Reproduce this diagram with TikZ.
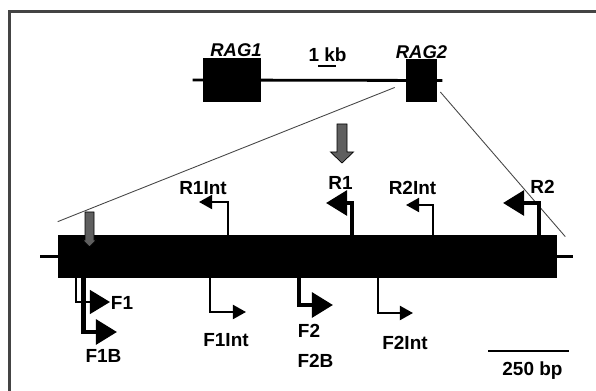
\documentclass[tikz,border=0pt]{standalone}
\usepackage{fontspec}
\setmainfont{Liberation Sans}
\usetikzlibrary{positioning}
\usetikzlibrary{calc}
\usetikzlibrary{arrows.meta}
\definecolor{zoomgray}{RGB}{70,70,70}
\definecolor{probegray}{RGB}{95,95,95}
\definecolor{framegray}{RGB}{68,68,68}

\begin{document}
\begin{tikzpicture}[
    x=0.02cm, y=-0.02cm,
    exon/.style={rectangle, fill=black, inner sep=0pt},
    lbl/.style={font=\fontsize{10.8}{12}\selectfont\bfseries, inner sep=0pt, anchor=base},
    gene/.style={lbl, font=\fontsize{10.5}{12}\selectfont\bfseries\itshape},
    primsmall/.style={line width=1.3pt, -{Triangle[length=7.5pt, width=8pt]}},
    primmid/.style={line width=1.6pt, -{Triangle[length=11.5pt, width=13.5pt]}},
    primbig/.style={line width=2.5pt, -{Triangle[length=12pt, width=14pt]}},
    zoomline/.style={zoomgray, line width=0.5pt},
    probe/.style={draw=black, line width=0.4pt, fill=probegray}
]
    \useasboundingbox (0,0) rectangle (596,391);
    \draw[framegray, line width=1.4pt] (9.5,391) -- (9.5,11.7) -- (596,11.7);

    % genomic locus
    \node[exon, minimum width=1.16cm, minimum height=0.88cm] (rag1) at (232,80) {};
    \node[exon, minimum width=0.62cm, minimum height=0.86cm] (rag2) at (421.5,80.5) {};
    \draw[line width=1.6pt] ([xshift=-0.2cm]rag1.west) -- ([xshift=0.1cm]rag2.east);
    \node[gene] (rag1lab) at (236,56.5) {RAG1};
    \node[gene] (rag2lab) at (421.5,59) {RAG2};
    \node[lbl] (kb) at (327.5,62) {1 kb};
    \draw[line width=1.2pt] (318,66) -- (336,66);

    % enlarged RAG2 exon
    \node[exon, minimum width=9.98cm, minimum height=0.86cm] (cds) at (307.5,256.5) {};
    \draw[line width=1.5pt] (cds.west) -- ++(-18,0);
    \draw[line width=1.5pt] (cds.east) -- ++(16,0);
    \draw[zoomline] ([shift={(-11,7)}]rag2.west) -- ([shift={(0,-13)}]cds.north west);
    \draw[zoomline] ([shift={(3,11.5)}]rag2.east) -- ([shift={(8,2)}]cds.north east);

    % reverse primers
    \foreach \nm/\xa/\xb/\yb/\st in {R1Int/228/199/202/primsmall, R1/352/326/203/primbig,
                                    R2Int/433/406/205/primsmall, R2/539/503/203/primbig} {
        \coordinate (\nm-foot) at (\xa,245);
        \coordinate (\nm-tip) at (\xb,\yb);
        \draw[\st] (\nm-foot) |- (\nm-tip);
    }
    % forward primers
    \foreach \nm/\xa/\xb/\yb/\st in {F1B/83.5/117/332/primbig, F1/76/110/302/primmid,
                                    F1Int/210/246/312/primsmall, F2/299/333/305/primbig,
                                    F2Int/378/413/313/primsmall} {
        \coordinate (\nm-foot) at (\xa,270);
        \coordinate (\nm-tip) at (\xb,\yb);
        \draw[\st] (\nm-foot) |- (\nm-tip);
    }

    % probes
    \draw[probe] (337,124) -- (347,124) -- (347,152) -- (353.5,152) -- (342,163)
                 -- (330.5,152) -- (337,152) -- cycle;
    \draw[probe] (85,212) -- (94,212) -- (94,240) -- (96.5,240) -- (89.5,247)
                 -- (82.5,240) -- (85,240) -- cycle;

    % labels
    \node[lbl] (R1Int-lab) at (203,195) {R1Int};
    \node[lbl] (R1-lab) at (340.5,190) {R1};
    \node[lbl] (R2Int-lab) at (412.5,195) {R2Int};
    \node[lbl] (R2-lab) at (542.5,194) {R2};
    \node[lbl] (F1-lab) at (122,310) {F1};
    \node[lbl] (F1B-lab) at (103.5,363) {F1B};
    \node[lbl] (F1Int-lab) at (226,347) {F1Int};
    \node[lbl] (F2-lab) at (309,338) {F2};
    \node[lbl] (F2B-lab) at (315.5,368) {F2B};
    \node[lbl] (F2Int-lab) at (405,350) {F2Int};

    % scale
    \draw[line width=1.7pt] (488,351) -- (569,351);
    \node[lbl] (bp) at (532.5,376) {250 bp};
\end{tikzpicture}
\end{document}
